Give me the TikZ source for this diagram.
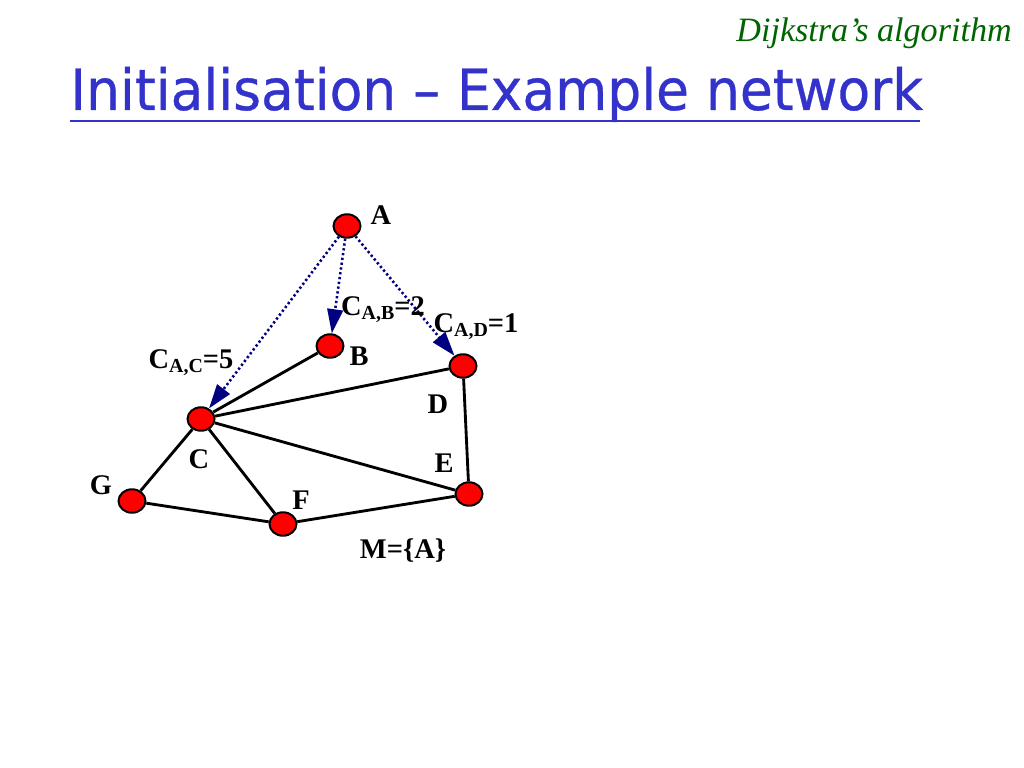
\documentclass[tikz,border=0pt]{standalone}
\usepackage{fontspec}
\setmainfont{Liberation Serif}
\newfontfamily\titlefont[FakeBold=0.6]{DejaVu Sans}
\usetikzlibrary{arrows.meta,shapes.geometric}
\definecolor{titleblue}{RGB}{51,51,204}
\definecolor{hdrgreen}{RGB}{0,100,0}
\definecolor{arrnavy}{RGB}{0,0,128}
\tikzset{
  vtx/.style={ellipse,draw=black,fill=red,line width=1.4pt,minimum width=19pt,minimum height=16.5pt,inner sep=0pt},
  lbl/.style={font=\fontsize{20}{22}\selectfont\bfseries,inner sep=0pt},
  edge/.style={line width=2pt,black},
  darr/.style={line width=1.8pt,arrnavy,dash pattern=on 1.6pt off 1.8pt,-{Triangle[length=17pt,width=11pt]}}
}
\newcommand{\cab}[2]{C\raisebox{-0.3ex}{\fontsize{14}{14}\selectfont #1}=#2}
\begin{document}
\begin{tikzpicture}[x=0.703125pt,y=-0.703125pt]
\useasboundingbox[fill=white] (0,0) rectangle (1024,768);
% header
\node[anchor=east,inner sep=0pt,text=hdrgreen,font=\fontsize{24}{26}\selectfont\itshape] (hdr) at (1012,33) {Dijkstra’s algorithm};
% title
\node[anchor=base west,inner sep=0pt,text=titleblue] (title) at (70,110) {\scalebox{0.94}[1]{\titlefont\fontsize{40}{44}\selectfont Initialisation – Example network}};
\coordinate (ul1) at (70,121);
\coordinate (ul2) at (920,121);
\draw[titleblue,line width=2pt] (ul1) -- (ul2);
% vertices
\node[vtx] (A) at (347,226) {};
\node[vtx] (B) at (330,346) {};
\node[vtx] (D) at (463,366) {};
\node[vtx] (C) at (201,419) {};
\node[vtx] (E) at (469,494) {};
\node[vtx] (F) at (283,524) {};
\node[vtx] (G) at (132,501) {};
% edges
\draw[edge] (B) -- (C);
\draw[edge] (C) -- (D);
\draw[edge] (C) -- (E);
\draw[edge] (C) -- (F);
\draw[edge] (C) -- (G);
\draw[edge] (G) -- (F);
\draw[edge] (F) -- (E);
\draw[edge] (D) -- (E);
% dotted arrows
\draw[darr] (A) -- (B);
\draw[darr] (A) -- (D);
\draw[darr] (A) -- (C);
% labels
\node[lbl] (lA) at (381,215) {A};
\node[lbl] (lB) at (359,356) {B};
\node[lbl] (lD) at (438,404) {D};
\node[lbl] (lC) at (199,459) {C};
\node[lbl] (lE) at (444,463) {E};
\node[lbl] (lF) at (301,500) {F};
\node[lbl] (lG) at (101,485) {G};
\node[lbl] (lM) at (403,551) {M=\{A\}};
\node[lbl] (cab) at (383,310) {\cab{A,B}{2}};
\node[lbl] (cad) at (476,327) {\cab{A,D}{1}};
\node[lbl] (cac) at (191,363) {\cab{A,C}{5}};
\end{tikzpicture}
\end{document}
